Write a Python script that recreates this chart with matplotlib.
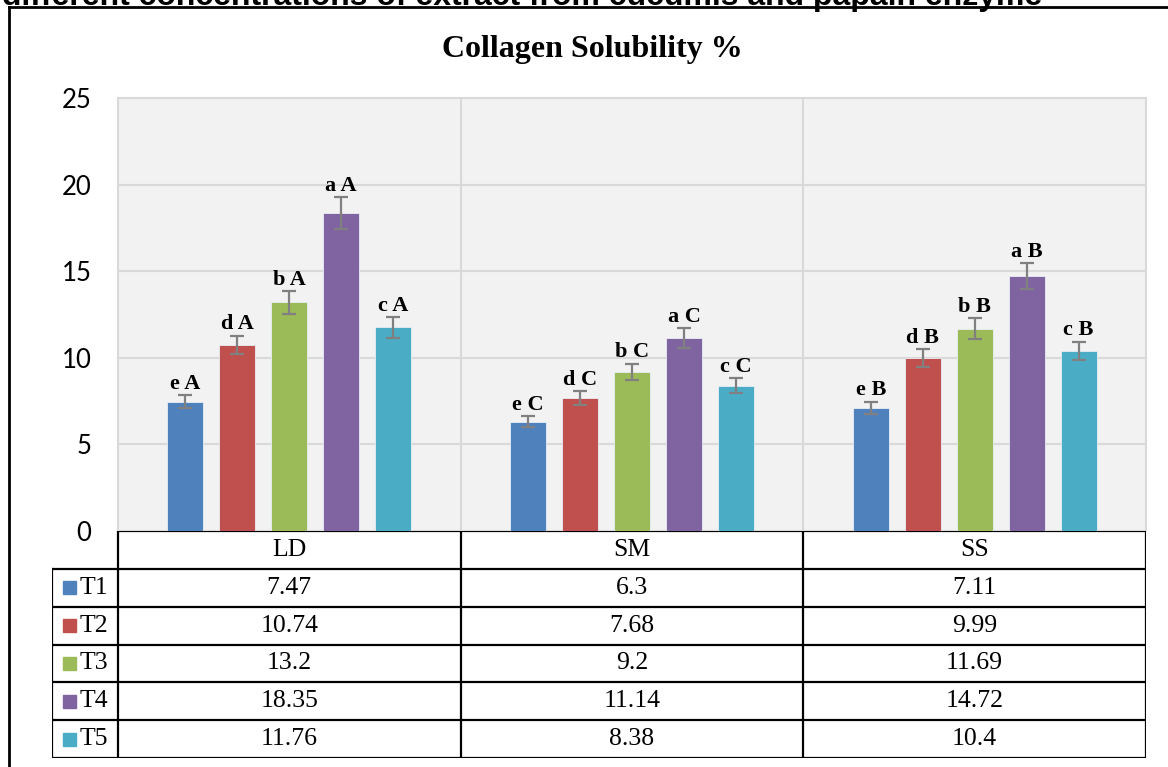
import matplotlib
matplotlib.use("Agg")
import matplotlib.pyplot as plt
from matplotlib.lines import Line2D
from matplotlib.patches import Rectangle
import numpy as np

# Collagen solubility (%) per muscle and treatment
muscles = ["LD", "SM", "SS"]
treatments = ["T1", "T2", "T3", "T4", "T5"]
t1 = [7.47, 6.3, 7.11]
t2 = [10.74, 7.68, 9.99]
t3 = [13.2, 9.2, 11.69]
t4 = [18.35, 11.14, 14.72]
t5 = [11.76, 8.38, 10.4]
# standard error bars
err_t1 = [0.37, 0.32, 0.36]
err_t2 = [0.53, 0.40, 0.50]
err_t3 = [0.65, 0.46, 0.58]
err_t4 = [0.92, 0.56, 0.74]
err_t5 = [0.60, 0.43, 0.52]
# significance letters (treatment letter, muscle letter)
sig_t1 = ["e A", "e C", "e B"]
sig_t2 = ["d A", "d C", "d B"]
sig_t3 = ["b A", "b C", "b B"]
sig_t4 = ["a A", "a C", "a B"]
sig_t5 = ["c A", "c C", "c B"]

series = [t1, t2, t3, t4, t5]
errors = [err_t1, err_t2, err_t3, err_t4, err_t5]
letters = [sig_t1, sig_t2, sig_t3, sig_t4, sig_t5]
colors = ["#4f81bd", "#c0504d", "#9bbb59", "#8064a2", "#4bacc6"]

W, H = 1168, 767
fig = plt.figure(figsize=(W / 100, H / 100), dpi=100)


def px_box(x0, y0, x1, y1):
    # pixel box (top-left origin) -> figure fraction rect
    return [x0 / W, 1 - y1 / H, (x1 - x0) / W, (y1 - y0) / H]


ax = fig.add_axes(px_box(118, 98, 1146, 531))
ax.set_facecolor("#f2f2f2")
ax.set_xlim(-0.5, 2.5)
ax.set_ylim(0, 25)
ax.set_yticks(np.arange(0, 26, 5))
ax.tick_params(axis="y", length=0, pad=19, labelsize=18.5)
for lab in ax.get_yticklabels():
    lab.set_fontfamily("Lato")
ax.set_xticks([])
ax.grid(axis="y", color="#d9d9d9", linewidth=1.5)
for xb in [0.5, 1.5]:
    ax.axvline(xb, color="#d9d9d9", linewidth=1.5)
ax.set_axisbelow(True)
for side in ["left", "right", "top"]:
    ax.spines[side].set_color("#d9d9d9")
    ax.spines[side].set_linewidth(1.5)
ax.spines["bottom"].set_visible(False)

x = np.arange(len(muscles))
step = 0.1516
bar_w = 0.105
for i, (vals, errs, sig) in enumerate(zip(series, errors, letters)):
    xs = x + (i - 2) * step
    ax.bar(xs, vals, width=bar_w, color=colors[i], edgecolor="#e8eef5",
           linewidth=0.6, zorder=2)
    ax.errorbar(xs, vals, yerr=errs, fmt="none", ecolor="#808080",
                elinewidth=1.6, capsize=5, capthick=1.6, zorder=3)
    for xi, v, e, s in zip(xs, vals, errs, sig):
        ax.annotate(s, (xi, v + e), xytext=(0, 1), textcoords="offset points",
                    ha="center", va="bottom", fontsize=16, fontweight="bold",
                    family="Liberation Serif")

# data table under the chart
label_w = (118 - 52) / 343
tab = fig.add_axes(px_box(52, 531, 1146, 758))
tab.set_xlim(-0.5 - label_w, 2.5)
tab.set_ylim(6, 0)
tab.axis("off")
lk = dict(color="black", linewidth=1.6, solid_capstyle="projecting")
left = -0.5 - label_w
tab.plot([-0.5, 2.5], [0, 0], **lk)
for r in range(1, 7):
    tab.plot([left, 2.5], [r, r], **lk)
for c in [-0.5, 0.5, 1.5, 2.5]:
    tab.plot([c, c], [0, 6], **lk)
tab.plot([left, left], [1, 6], **lk)
for j, m in enumerate(muscles):
    tab.text(j, 0.5, m, ha="center", va="center", fontsize=18.5,
             family="Liberation Serif")
for i, (name, vals) in enumerate(zip(treatments, series)):
    yc = i + 1.5
    tab.add_patch(Rectangle((left + 0.032, yc - 0.17), 0.038, 0.34,
                            color=colors[i], clip_on=False))
    tab.text(left + 0.08, yc, name, ha="left", va="center", fontsize=18.5,
             family="Liberation Serif")
    for j, v in enumerate(vals):
        tab.text(j, yc, f"{v:g}", ha="center", va="center", fontsize=18.5,
                 family="Liberation Serif")

fig.text(592 / W, 1 - 50 / H, "Collagen Solubility %", ha="center",
         va="center", fontsize=23, fontweight="bold", family="Liberation Serif")

# caption line running above the frame
fig.text(2 / W, 1 - 5 / H,
         "different concentrations of extract from cucumis and papain enzyme",
         ha="left", va="baseline", fontsize=23, fontweight="bold",
         family="Liberation Sans")

# outer frame
fig.add_artist(Line2D([9 / W, 9 / W], [0, 1 - 7 / H], color="black",
                      linewidth=2, transform=fig.transFigure))
fig.add_artist(Line2D([9 / W, 1], [1 - 7 / H, 1 - 7 / H], color="black",
                      linewidth=2, transform=fig.transFigure))

fig.savefig("out.png", dpi=100)
